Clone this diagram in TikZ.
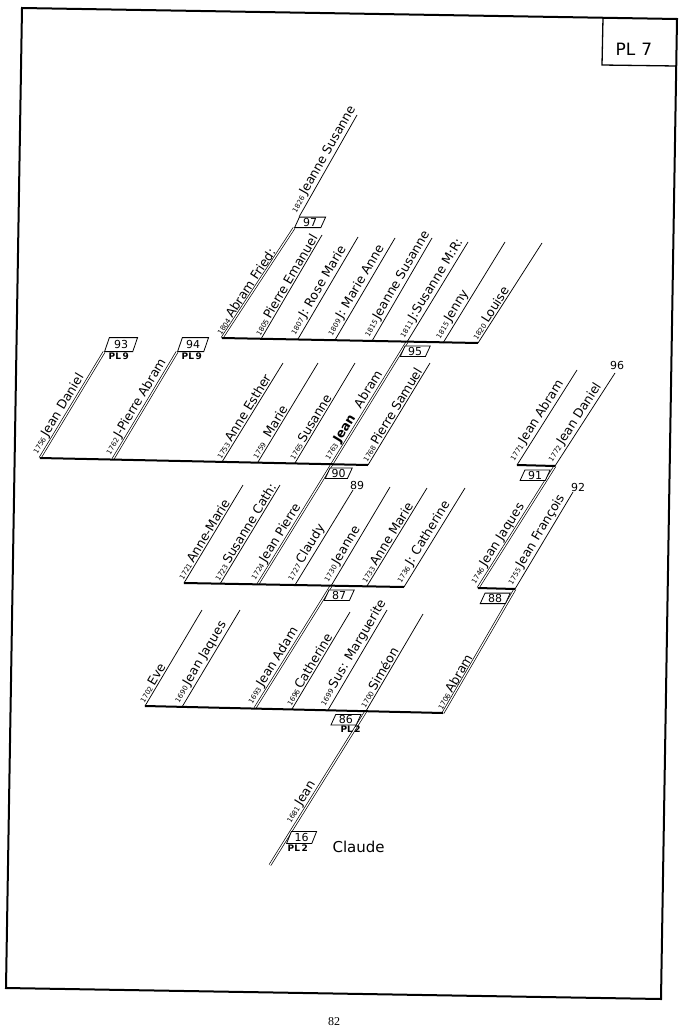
\documentclass[tikz,border=0pt]{standalone}
\usepackage{fontspec}
\setmainfont{DejaVu Sans}
\newfontfamily\pagenumfont{Liberation Serif}
\usetikzlibrary{shapes.geometric,calc}
\newcommand\yrs{\fontsize{7}{7}\selectfont}
\newcommand\nmf{\fontsize{12.5}{13}\selectfont}
\newcommand\lb[2]{{\yrs #1}\,#2}
\tikzset{
  framel/.style={line width=2pt, line join=miter},
  bar/.style={line width=2pt},
  kid/.style={line width=0.75pt},
  trunk/.style={double=white, double distance=1.2pt, line width=0.7pt},
  lab/.style={sloped, anchor=south west, inner sep=1.3pt, font=\nmf},
  numbox/.style={draw, fill=white, line width=0.8pt, trapezium, trapezium left angle=60,
    trapezium right angle=120, trapezium stretches body, minimum width=30pt,
    minimum height=10.5pt, inner sep=0pt, font=\fontsize{11}{11}\selectfont},
  plnote/.style={font=\bfseries\fontsize{9}{9}\selectfont, inner sep=0.5pt},
  numlab/.style={font=\fontsize{11}{11}\selectfont, inner sep=0.5pt, anchor=south},
}
\begin{document}
\begin{tikzpicture}[x=1pt,y=-1pt]
\useasboundingbox (0,0) rectangle (686,1033);
% frame
\coordinate (F1) at (22,8); \coordinate (F2) at (677,19);
\coordinate (F3) at (661,999); \coordinate (F4) at (6,988);
\draw[framel] (F1) -- (F2) -- (F3) -- (F4) -- cycle;
\coordinate (P1) at (603,18); \coordinate (P2) at (602,65); \coordinate (P3) at (676,66);
\draw[line width=1.3pt] (P1) -- (P2) -- (P3);
\node[font=\fontsize{17}{17}\selectfont] (pl7) at (634,49) {PL\hspace{6pt}7};
\node[font=\pagenumfont\fontsize{12}{12}\selectfont] (pg) at (334,1022) {82};

% ---------- coordinates
% group A (95)
\coordinate (a1b) at (222,338); \coordinate (a1t) at (294,228);
\coordinate (a2b) at (261,339); \coordinate (a2t) at (322,235);
\coordinate (a3b) at (298,339); \coordinate (a3t) at (358,237);
\coordinate (a4b) at (335,340); \coordinate (a4t) at (395,238);
\coordinate (a5b) at (372,341); \coordinate (a5t) at (432,238);
\coordinate (a6b) at (407,342); \coordinate (a6t) at (468,242);
\coordinate (a7b) at (443,343); \coordinate (a7t) at (505,242);
\coordinate (a8b) at (478,343); \coordinate (a8t) at (542,243);
\coordinate (a9t) at (357,115);
% group B (90)
\coordinate (b1b) at (40,458);  \coordinate (b1t) at (104,352);
\coordinate (b2b) at (113,459); \coordinate (b2t) at (177,352);
\coordinate (b3b) at (222,462); \coordinate (b3t) at (283,363);
\coordinate (b4b) at (258,462); \coordinate (b4t) at (318,363);
\coordinate (b5b) at (295,463); \coordinate (b5t) at (355,363);
\coordinate (b6b) at (332,464);
\coordinate (b7b) at (368,465); \coordinate (b7t) at (430,363);
% group C (87)
\coordinate (c1b) at (184,583); \coordinate (c1t) at (243,485);
\coordinate (c2b) at (220,584); \coordinate (c2t) at (280,485);
\coordinate (c3b) at (258,584);
\coordinate (c4b) at (295,585); \coordinate (c4t) at (353,490);
\coordinate (c5b) at (331,586); \coordinate (c5t) at (390,487);
\coordinate (c6b) at (367,586); \coordinate (c6t) at (427,488);
\coordinate (c7b) at (404,587); \coordinate (c7t) at (465,488);
% group D (86)
\coordinate (d1b) at (145,706); \coordinate (d1t) at (202,610);
\coordinate (d2b) at (182,707); \coordinate (d2t) at (240,610);
\coordinate (d3b) at (255,708);
\coordinate (d4b) at (292,709); \coordinate (d4t) at (350,612);
\coordinate (d5b) at (328,710); \coordinate (d5t) at (387,610);
\coordinate (d6b) at (366,711); \coordinate (d6t) at (423,614);
\coordinate (d7b) at (443,713);
% group F (88)
\coordinate (f1b) at (478,588);
\coordinate (f2b) at (515,589); \coordinate (f2t) at (573,492);
% group E (91)
\coordinate (e1b) at (517,465); \coordinate (e1t) at (577,370);
\coordinate (e2b) at (555,466); \coordinate (e2t) at (615,373);
% trunk
\coordinate (t0) at (270,865);

% ---------- double (continuing) lines
\draw[trunk] (t0) -- (d6b) node[lab, pos=0.245] {\lb{1681}{Jean}};
\draw[trunk] (d3b) -- (c5b) node[lab, pos=0] {\lb{1693}{Jean Adam}};
\draw[trunk] (d7b) -- (f2b) node[lab, pos=0] {\lb{1706}{Abram}};
\draw[trunk] (c3b) -- (b6b) node[lab, pos=0] {\lb{1724}{Jean Pierre}};
\draw[trunk] (f1b) -- (e2b) node[lab, pos=0] {\lb{1746}{Jean Jaques}};
\draw[trunk] (b6b) -- (a6b) node[lab, pos=0] {{\yrs 1763}\,\textbf{Jean}\hspace{10pt}Abram};
\draw[trunk] (b1b) -- (b1t) node[lab, pos=0] {\lb{1756}{Jean Daniel}};
\draw[trunk] (b2b) -- (b2t) node[lab, pos=0] {\lb{1762}{J-Pierre Abram}};
\draw[trunk] (a1b) -- (a1t) node[lab, pos=0] {\lb{1804}{Abram Fried:}};

% ---------- bars
\draw[bar] (a1b) -- (a8b);
\draw[bar] (b1b) -- (b7b);
\draw[bar] (c1b) -- (c7b);
\draw[bar] (d1b) -- (d7b);
\draw[bar] (f1b) -- (f2b);
\draw[bar] (e1b) -- (e2b);

% ---------- single child lines
\draw[kid] (a2b) -- (a2t) node[lab, pos=0] {\lb{1805}{Pierre Emanuel}};
\draw[kid] (a3b) -- (a3t) node[lab, pos=0] {\lb{1807}{J: Rose Marie}};
\draw[kid] (a4b) -- (a4t) node[lab, pos=0] {\lb{1809}{J: Marie Anne}};
\draw[kid] (a5b) -- (a5t) node[lab, pos=0] {\lb{1815}{Jeanne Susanne}};
\draw[kid] (a6b) -- (a6t) node[lab, pos=0] {\lb{1811}{J:Susanne M:R:}};
\draw[kid] (a7b) -- (a7t) node[lab, pos=0] {\lb{1815}{Jenny}};
\draw[kid] (a8b) -- (a8t) node[lab, pos=0] {\lb{1820}{Louise}};

\draw[kid] (b3b) -- (b3t) node[lab, pos=0] {\lb{1753}{Anne Esther}};
\draw[kid] (b4b) -- (b4t) node[lab, pos=0] {\lb{1759}{\hspace{5pt}Marie}};
\draw[kid] (b5b) -- (b5t) node[lab, pos=0] {\lb{1765}{Susanne}};
\draw[kid] (b7b) -- (b7t) node[lab, pos=0] {\lb{1768}{Pierre Samuel}};

\draw[kid] (c1b) -- (c1t) node[lab, pos=0] {\lb{1721}{Anne-Marie}};
\draw[kid] (c2b) -- (c2t) node[lab, pos=0] {\lb{1723}{Susanne Cath:}};
\draw[kid] (c4b) -- (c4t) node[lab, pos=0] {\lb{1727}{Claudy}};
\draw[kid] (c5b) -- (c5t) node[lab, pos=0] {\lb{1730}{Jeanne}};
\draw[kid] (c6b) -- (c6t) node[lab, pos=0] {\lb{1733}{Anne Marie}};
\draw[kid] (c7b) -- (c7t) node[lab, pos=0] {\lb{1736}{J: Catherine}};

\draw[kid] (d1b) -- (d1t) node[lab, pos=0] {\lb{1702}{Eve}};
\draw[kid] (d2b) -- (d2t) node[lab, pos=0] {\lb{1690}{Jean Jaques}};
\draw[kid] (d4b) -- (d4t) node[lab, pos=0] {\lb{1696}{Catherine}};
\draw[kid] (d5b) -- (d5t) node[lab, pos=0] {\lb{1699}{Sus: Marguerite}};
\draw[kid] (d6b) -- (d6t) node[lab, pos=0] {\lb{1700}{Siméon}};

\draw[kid] (f2b) -- (f2t) node[lab, pos=0] {\lb{1755}{Jean François}};
\draw[kid] (e1b) -- (e1t) node[lab, pos=0] {\lb{1771}{Jean Abram}};
\draw[kid] (e2b) -- (e2t) node[lab, pos=0] {\lb{1772}{Jean Daniel}};

% ---------- number boxes
\node[numbox, anchor=bottom left corner, minimum width=31pt] (n97) at (a1t) {97};
\draw[kid] (n97.top left corner) -- (a9t) node[lab, pos=0] {\lb{1826}{Jeanne Susanne}};
\node[numbox, anchor=bottom left corner, minimum height=14pt, minimum width=33pt] (n93) at (b1t) {93};
\node[plnote, anchor=north west, xshift=4pt] (pl93) at (n93.bottom left corner) {PL\,9};
\node[numbox, anchor=bottom left corner, minimum height=14pt, minimum width=31pt] (n94) at (b2t) {94};
\node[plnote, anchor=north west, xshift=4pt] (pl94) at (n94.bottom left corner) {PL\,9};
\node[numbox, anchor=top left corner] (n95) at ($(a6b)!0.03!(b6b)$) {95};
\node[numbox, anchor=top left corner, minimum width=27pt] (n90) at ($(b6b)!0.03!(c3b)$) {90};
\node[numbox, anchor=top left corner] (n87) at ($(c5b)!0.03!(d3b)$) {87};
\node[numbox, anchor=top right corner, xshift=-2.5pt] (n86) at ($(d6b)!0.02!(t0)$) {86};
\node[plnote, anchor=north east, xshift=5pt] (pl86) at (n86.bottom right corner) {PL\,2};
\node[numbox, anchor=top right corner, xshift=-2pt] (n88) at ($(f2b)!0.03!(d7b)$) {88};
\node[numbox, anchor=top right corner, xshift=-2pt] (n91) at ($(e2b)!0.03!(f1b)$) {91};
\node[numbox, anchor=top left corner, minimum height=12pt] (n16) at ($(t0)!0.22!(d6b)$) {16};
\node[plnote, anchor=north west, xshift=1pt] (pl16) at (n16.bottom left corner) {PL\,2};
\node[font=\fontsize{15}{15}\selectfont, anchor=west] (claude) at (329,847) {Claude};

% ---------- continuation page numbers
\node[numlab, xshift=4pt] (p89) at (c4t) {89};
\node[numlab, xshift=5pt] (p92) at (f2t) {92};
\node[numlab, xshift=2pt, yshift=3pt] (p96) at (e2t) {96};
\end{tikzpicture}
\end{document}
